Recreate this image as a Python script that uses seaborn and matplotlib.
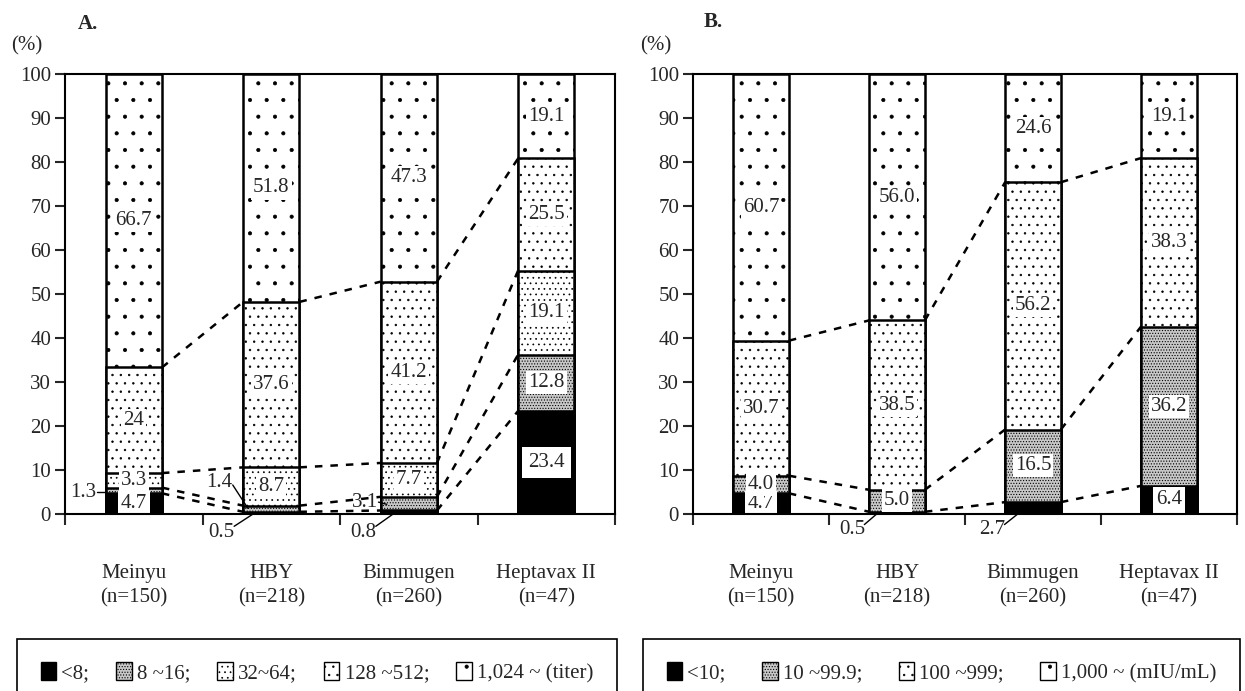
import numpy as np
import matplotlib
matplotlib.use("Agg")
import matplotlib.pyplot as plt
from matplotlib.patches import Patch
import seaborn as sns

# ---------------- data ----------------
vaccines = ["Meinyu", "HBY", "Bimmugen", "Heptavax II"]
n_sizes = [150, 218, 260, 47]

# Panel A: antibody titer distribution (%), bottom -> top
titer_levels = ["<8;", "8 ~16;", "32~64;", "128 ~512;", "1,024 ~ (titer)"]
titer_lt8 = [4.7, 0.5, 0.8, 23.4]
titer_8_16 = [1.3, 1.4, 3.1, 12.8]
titer_32_64 = [3.3, 8.7, 7.7, 19.1]
titer_128_512 = [24, 37.6, 41.2, 25.5]
titer_1024 = [66.7, 51.8, 47.3, 19.1]

# Panel B: anti-HBs concentration distribution (%), bottom -> top
iu_levels = ["<10;", "10 ~99.9;", "100 ~999;", "1,000 ~ (mIU/mL)"]
iu_lt10 = [4.7, 0.5, 2.7, 6.4]
iu_10_99 = [4.0, 5.0, 16.5, 36.2]
iu_100_999 = [30.7, 38.5, 56.2, 38.3]
iu_1000 = [60.7, 56.0, 24.6, 19.1]

# ---------------- style ----------------
sns.set_style("white")
plt.rcParams["font.family"] = ["Liberation Serif", "DejaVu Serif"]
plt.rcParams["hatch.linewidth"] = 0.5
plt.rcParams["axes.linewidth"] = 1.5

FS = 15
HW = 0.205  # half bar width

# patterns bottom -> top
styles5 = [("black", None), ("#c8c8c8", "......"), ("white", "..."),
           ("white", ".."), ("white", ".")]
styles4 = [("black", None), ("#c8c8c8", "......"), ("white", ".."),
           ("white", ".")]


def fmt(v):
    return str(v) if isinstance(v, int) else f"{v:.1f}"


def draw_panel(ax, segs, levels, styles, outside, title, legend_box):
    segs_arr = np.array(segs, dtype=float)
    cum = np.cumsum(segs_arr, axis=0)
    nseg = len(segs)
    # draw cumulative bars from the top layer down
    for k in reversed(range(nseg)):
        fc, hatch = styles[k]
        sns.barplot(x=vaccines, y=cum[k], ax=ax, order=vaccines, width=2 * HW,
                    color=fc, saturation=1, edgecolor="black", linewidth=1.8,
                    hatch=hatch, errorbar=None, zorder=2 + (nseg - k) * 0.01)
    # dashed connectors between cumulative boundaries
    for k in range(nseg - 1):
        for i in range(len(vaccines) - 1):
            ax.plot([i + HW, i + 1 - HW], [cum[k][i], cum[k][i + 1]],
                    color="black", lw=1.8, ls=(0, (3, 3.2)), zorder=3)
    # value labels
    for k in range(nseg):
        for i in range(len(vaccines)):
            v = segs[k][i]
            if (k, i) in outside:
                tx, ty, (x0, y0), (x1, y1) = outside[(k, i)]
                ax.text(tx, ty, fmt(v), ha="center", va="center", fontsize=FS,
                        zorder=6, clip_on=False)
                ax.plot([x0, x1], [y0, y1], color="black", lw=1.0, zorder=6,
                        clip_on=False)
            else:
                mid = cum[k][i] - v / 2
                if k == 0:
                    pad = 0.3 if v > 15 else 0.15
                else:
                    pad = 0.1
                ax.text(i, mid, fmt(v), ha="center", va="center", fontsize=FS,
                        zorder=6,
                        bbox=dict(boxstyle=f"square,pad={pad}", fc="white",
                                  ec="none"))
    # axes
    ax.set_xlim(-0.5, 3.5)
    ax.set_ylim(0, 100)
    ax.set_xlabel("")
    ax.set_ylabel("")
    ax.set_yticks(range(0, 101, 10))
    ax.tick_params(axis="y", length=7, width=1.5, direction="out",
                   labelsize=FS, pad=3, left=True)
    ax.set_xticks([-0.5, 0.5, 1.5, 2.5, 3.5])
    ax.set_xticklabels([])
    ax.set_xticks(range(len(vaccines)), minor=True)
    ax.set_xticklabels([f"{v}\n(n={n})" for v, n in zip(vaccines, n_sizes)],
                       minor=True, fontsize=FS, linespacing=1.4)
    ax.tick_params(axis="x", which="major", length=8, width=1.5,
                   direction="out", bottom=True)
    ax.tick_params(axis="x", which="minor", length=0, pad=36)
    for s in ax.spines.values():
        s.set_visible(True)
        s.set_linewidth(1.5)
        s.set_color("black")
        s.set_zorder(7)
    ax.text(title[1], title[2], title[0], transform=ax.transAxes,
            fontsize=FS, fontweight="bold", ha="left", va="center")
    ax.text(title[3], 1.064, "(%)", transform=ax.transAxes, fontsize=FS,
            ha="center", va="center")
    # legend
    handles = [Patch(facecolor=fc, edgecolor="black", hatch=h, lw=1.0)
               for fc, h in styles]
    leg = ax.legend(handles, levels, loc="center", bbox_to_anchor=legend_box,
                    mode="expand", ncol=len(levels), frameon=True,
                    fontsize=FS, handlelength=0.75, handleheight=0.95,
                    handletextpad=0.25, columnspacing=0.3, borderpad=1.13,
                    borderaxespad=0, fancybox=False, edgecolor="black")
    leg.get_frame().set_linewidth(1.2)
    leg.get_frame().set_alpha(1)


fig = plt.figure(figsize=(12.45, 6.91), dpi=100)
axA = fig.add_axes([65 / 1245, 1 - 514 / 691, 550 / 1245, 440 / 691])
axB = fig.add_axes([693 / 1245, 1 - 514 / 691, 544 / 1245, 440 / 691])

outsideA = {
    (1, 0): (-0.37, 4.8, (-0.27, 5.0), (-0.205, 5.0)),
    (0, 1): (0.64, -4.2, (0.73, -2.8), (0.88, 0.25)),
    (1, 1): (0.62, 7.1, (0.72, 6.6), (0.83, 1.3)),
    (0, 2): (1.67, -4.2, (1.76, -2.8), (1.90, 0.3)),
    (1, 2): (1.68, 2.7, (1.78, 2.7), (1.84, 2.2)),
}
outsideB = {
    (0, 1): (0.67, -3.6, (0.76, -2.4), (0.86, 0.25)),
    (0, 2): (1.70, -3.6, (1.79, -2.4), (1.90, 0.3)),
}

draw_panel(axA, [titer_lt8, titer_8_16, titer_32_64, titer_128_512, titer_1024],
           titer_levels, styles5, outsideA, ("A.", 0.024, 1.114, -0.069),
           (-0.0873, -0.4386, 1.0909, 0.1545))
draw_panel(axB, [iu_lt10, iu_10_99, iu_100_999, iu_1000],
           iu_levels, styles4, outsideB, ("B.", 0.02, 1.118, -0.068),
           (-0.0919, -0.4386, 1.0974, 0.1545))

fig.savefig("out.png", dpi=100, facecolor="white")
